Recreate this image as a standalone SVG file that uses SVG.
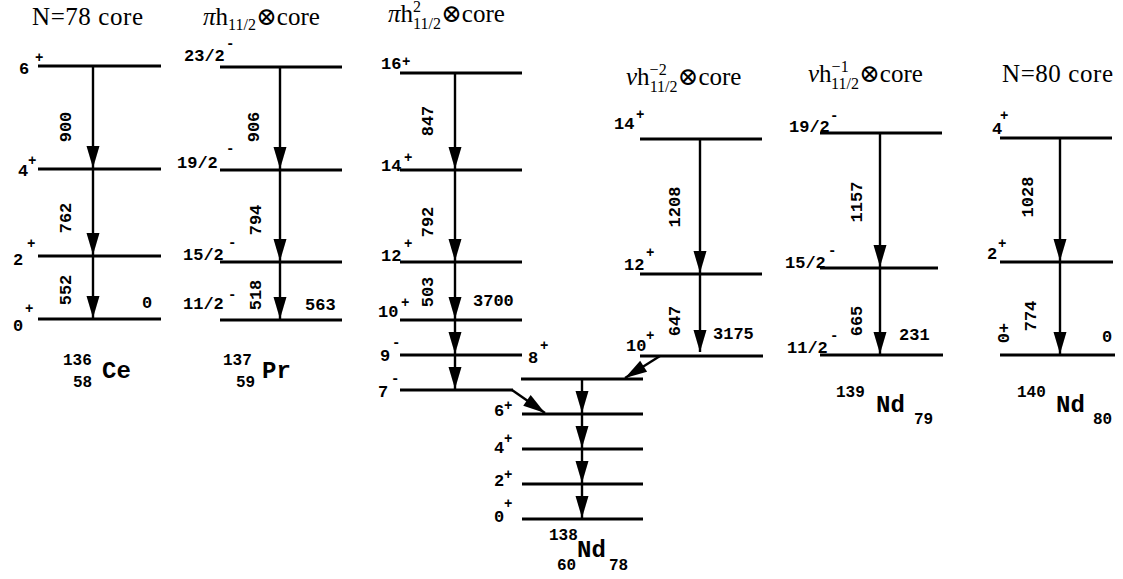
<svg xmlns="http://www.w3.org/2000/svg" width="1123" height="579" viewBox="0 0 1123 579">
<defs>
<style>
.lv{stroke:#000;stroke-width:3;fill:none}
.tr{stroke:#000;stroke-width:2.4;fill:none;marker-end:url(#ah)}
.hd{font-family:"Liberation Serif","DejaVu Serif",serif;font-size:25px;fill:#000}
.gr{font-style:italic}
.sp{font-family:"Liberation Mono","DejaVu Sans Mono",monospace;font-weight:bold;font-size:17px;fill:#000}
.ss{font-family:"Liberation Mono","DejaVu Sans Mono",monospace;font-weight:bold;font-size:14px;fill:#000}
.en{font-family:"Liberation Mono","DejaVu Sans Mono",monospace;font-weight:bold;font-size:17px;fill:#000}
.nm{font-family:"Liberation Mono","DejaVu Sans Mono",monospace;font-weight:bold;font-size:16px;fill:#000}
.el{font-family:"Liberation Mono","DejaVu Sans Mono",monospace;font-weight:bold;font-size:24px;fill:#000}
</style>
<marker id="ah" markerUnits="userSpaceOnUse" viewBox="-1 -8 24 16" refX="22" refY="0" markerWidth="24" markerHeight="16" orient="auto">
<path d="M0,-6.5 L22,0 L0,6.5 Z" fill="#000"/>
</marker>
</defs>
<rect width="1123" height="579" fill="#fff"/>

<g id="headers">
<text class="hd" x="32" y="25" textLength="111">N=78 core</text>
<text class="hd" x="203" y="25"><tspan class="gr">π</tspan>h<tspan font-size="16" dy="5">11/2</tspan><tspan dy="-5">⊗core</tspan></text>
<text class="hd" x="388" y="22"><tspan class="gr">π</tspan>h<tspan font-size="16" dy="-10">2</tspan><tspan font-size="16" dx="-8" dy="17">11/2</tspan><tspan dy="-7">⊗core</tspan></text>
<text class="hd" x="626" y="85"><tspan class="gr">ν</tspan>h<tspan font-size="16" dy="-10">−2</tspan><tspan font-size="16" dx="-17" dy="17">11/2</tspan><tspan dy="-7">⊗core</tspan></text>
<text class="hd" x="808" y="82"><tspan class="gr">ν</tspan>h<tspan font-size="16" dy="-10">−1</tspan><tspan font-size="16" dx="-17" dy="17">11/2</tspan><tspan dy="-7">⊗core</tspan></text>
<text class="hd" x="1002" y="82" textLength="111">N=80 core</text>
</g>

<g id="ce136">
<line class="lv" x1="38" y1="66" x2="161" y2="66"/>
<line class="lv" x1="38" y1="169" x2="161" y2="169"/>
<line class="lv" x1="38" y1="256" x2="161" y2="256"/>
<line class="lv" x1="38" y1="319" x2="161" y2="319"/>
<text class="sp" x="19" y="74">6</text><text class="ss" x="35" y="62">+</text>
<text class="sp" x="18" y="176">4</text><text class="ss" x="28" y="165">+</text>
<text class="sp" x="13" y="265">2</text><text class="ss" x="27" y="248">+</text>
<text class="sp" x="13" y="331">0</text><text class="ss" x="25" y="313">+</text>
<text class="en" x="142" y="308">0</text>
<text class="nm" x="63" y="365">136</text>
<text class="nm" x="73" y="387">58</text>
<text class="el" x="102" y="378">Ce</text>
</g>

<g id="pr137">
<line class="lv" x1="220" y1="67" x2="342" y2="67"/>
<line class="lv" x1="220" y1="170" x2="342" y2="170"/>
<line class="lv" x1="220" y1="262" x2="342" y2="262"/>
<line class="lv" x1="220" y1="320" x2="342" y2="320"/>
<text class="sp" x="184" y="61">23/2</text><text class="ss" x="226" y="48">-</text>
<text class="sp" x="177" y="168">19/2</text><text class="ss" x="226" y="153">-</text>
<text class="sp" x="183" y="260">15/2</text><text class="ss" x="228" y="247">-</text>
<text class="sp" x="183" y="309">11/2</text><text class="ss" x="228" y="299">-</text>
<text class="en" x="305" y="310">563</text>
<text class="nm" x="223" y="365">137</text>
<text class="nm" x="236" y="387">59</text>
<text class="el" x="262" y="378">Pr</text>
</g>

<g id="nd138-proton">
<line class="lv" x1="400" y1="73" x2="522" y2="73"/>
<line class="lv" x1="400" y1="170" x2="522" y2="170"/>
<line class="lv" x1="400" y1="262" x2="522" y2="262"/>
<line class="lv" x1="400" y1="320" x2="522" y2="320"/>
<line class="lv" x1="400" y1="355" x2="522" y2="355"/>
<line class="lv" x1="400" y1="390" x2="513" y2="390"/>
<text class="sp" x="381" y="69">16</text><text class="ss" x="402" y="66">+</text>
<text class="sp" x="381" y="171">14</text><text class="ss" x="404" y="162">+</text>
<text class="sp" x="381" y="261">12</text><text class="ss" x="404" y="248">+</text>
<text class="sp" x="378" y="317">10</text><text class="ss" x="401" y="307">+</text>
<text class="sp" x="380" y="361">9</text><text class="ss" x="392" y="347">-</text>
<text class="sp" x="378" y="397">7</text><text class="ss" x="391" y="383">-</text>
<text class="en" x="473" y="306">3700</text>
</g>

<g id="nd138">
<line class="lv" x1="521" y1="379" x2="643" y2="379"/>
<line class="lv" x1="522" y1="414" x2="643" y2="414"/>
<line class="lv" x1="522" y1="449" x2="643" y2="449"/>
<line class="lv" x1="522" y1="484" x2="643" y2="484"/>
<line class="lv" x1="522" y1="519" x2="643" y2="519"/>
<text class="sp" x="528" y="363">8</text><text class="ss" x="540" y="350">+</text>
<text class="sp" x="494" y="416">6</text><text class="ss" x="504" y="410">+</text>
<text class="sp" x="494" y="453">4</text><text class="ss" x="504" y="443">+</text>
<text class="sp" x="494" y="486">2</text><text class="ss" x="504" y="479">+</text>
<text class="sp" x="494" y="522">0</text><text class="ss" x="504" y="508">+</text>
<text class="nm" x="549" y="540">138</text>
<text class="el" x="577" y="557">Nd</text>
<text class="nm" x="557" y="570">60</text>
<text class="nm" x="609" y="570">78</text>
</g>

<g id="nd138-neutron">
<line class="lv" x1="640" y1="139" x2="762" y2="139"/>
<line class="lv" x1="640" y1="274" x2="762" y2="274"/>
<line class="lv" x1="640" y1="356" x2="763" y2="356"/>
<text class="sp" x="614" y="129">14</text><text class="ss" x="636" y="119">+</text>
<text class="sp" x="624" y="270">12</text><text class="ss" x="646" y="257">+</text>
<text class="sp" x="626" y="351">10</text><text class="ss" x="646" y="340">+</text>
<text class="en" x="713" y="339">3175</text>
</g>

<g id="nd139">
<line class="lv" x1="820" y1="133" x2="942" y2="133"/>
<line class="lv" x1="820" y1="268" x2="938" y2="268"/>
<line class="lv" x1="820" y1="355" x2="943" y2="355"/>
<text class="sp" x="789" y="132">19/2</text><text class="ss" x="830" y="120">-</text>
<text class="sp" x="785" y="268">15/2</text><text class="ss" x="828" y="255">-</text>
<text class="sp" x="787" y="353">11/2</text><text class="ss" x="830" y="340">-</text>
<text class="en" x="899" y="340">231</text>
<text class="nm" x="836" y="397">139</text>
<text class="el" x="876" y="412">Nd</text>
<text class="nm" x="914" y="424">79</text>
</g>

<g id="nd140">
<line class="lv" x1="1000" y1="138" x2="1112" y2="138"/>
<line class="lv" x1="1000" y1="262" x2="1113" y2="262"/>
<line class="lv" x1="1000" y1="355" x2="1115" y2="355"/>
<text class="sp" x="992" y="134">4</text><text class="ss" x="1000" y="120">+</text>
<text class="sp" x="987" y="259">2</text><text class="ss" x="998" y="248">+</text>
<text class="sp" transform="translate(1003,333) rotate(-90)" text-anchor="middle" y="6">0+</text>
<text class="en" x="1102" y="342">0</text>
<text class="nm" x="1017" y="397">140</text>
<text class="el" x="1056" y="412">Nd</text>
<text class="nm" x="1093" y="424">80</text>
</g>

<g id="connectors">
<line class="tr" x1="93" y1="66" x2="93" y2="168"/>
<line class="tr" x1="93" y1="169" x2="93" y2="255"/>
<line class="tr" x1="93" y1="256" x2="93" y2="318"/>
<line class="tr" x1="280" y1="67" x2="280" y2="169"/>
<line class="tr" x1="280" y1="170" x2="280" y2="261"/>
<line class="tr" x1="280" y1="262" x2="280" y2="319"/>
<line class="tr" x1="455" y1="73" x2="455" y2="169"/>
<line class="tr" x1="455" y1="170" x2="455" y2="261"/>
<line class="tr" x1="455" y1="262" x2="455" y2="319"/>
<line class="tr" x1="455" y1="320" x2="455" y2="354"/>
<line class="tr" x1="455" y1="355" x2="455" y2="389"/>
<line class="tr" x1="512" y1="390" x2="545" y2="413"/>
<line class="tr" x1="660" y1="356" x2="625" y2="378"/>
<line class="tr" x1="582" y1="379" x2="582" y2="413"/>
<line class="tr" x1="582" y1="414" x2="582" y2="448"/>
<line class="tr" x1="582" y1="449" x2="582" y2="483"/>
<line class="tr" x1="582" y1="484" x2="582" y2="518"/>
<line class="tr" x1="700" y1="139" x2="700" y2="273"/>
<line class="tr" x1="700" y1="274" x2="700" y2="352"/>
<line class="tr" x1="880" y1="133" x2="880" y2="267"/>
<line class="tr" x1="880" y1="268" x2="880" y2="354"/>
<line class="tr" x1="1060" y1="138" x2="1060" y2="261"/>
<line class="tr" x1="1060" y1="262" x2="1060" y2="354"/>
</g>

<g id="transition-labels">
<text class="en" transform="translate(65,127) rotate(-90)" text-anchor="middle" y="6">900</text>
<text class="en" transform="translate(65,218) rotate(-90)" text-anchor="middle" y="6">762</text>
<text class="en" transform="translate(65,290) rotate(-90)" text-anchor="middle" y="6">552</text>
<text class="en" transform="translate(253,127) rotate(-90)" text-anchor="middle" y="6">906</text>
<text class="en" transform="translate(255,220) rotate(-90)" text-anchor="middle" y="6">794</text>
<text class="en" transform="translate(255,295) rotate(-90)" text-anchor="middle" y="6">518</text>
<text class="en" transform="translate(427,121) rotate(-90)" text-anchor="middle" y="6">847</text>
<text class="en" transform="translate(427,222) rotate(-90)" text-anchor="middle" y="6">792</text>
<text class="en" transform="translate(427,292) rotate(-90)" text-anchor="middle" y="6">503</text>
<text class="en" transform="translate(674,207) rotate(-90)" text-anchor="middle" y="6">1208</text>
<text class="en" transform="translate(674,321) rotate(-90)" text-anchor="middle" y="6">647</text>
<text class="en" transform="translate(856,202) rotate(-90)" text-anchor="middle" y="6">1157</text>
<text class="en" transform="translate(856,321) rotate(-90)" text-anchor="middle" y="6">665</text>
<text class="en" transform="translate(1027,197) rotate(-90)" text-anchor="middle" y="6">1028</text>
<text class="en" transform="translate(1030,316) rotate(-90)" text-anchor="middle" y="6">774</text>
</g>
</svg>
